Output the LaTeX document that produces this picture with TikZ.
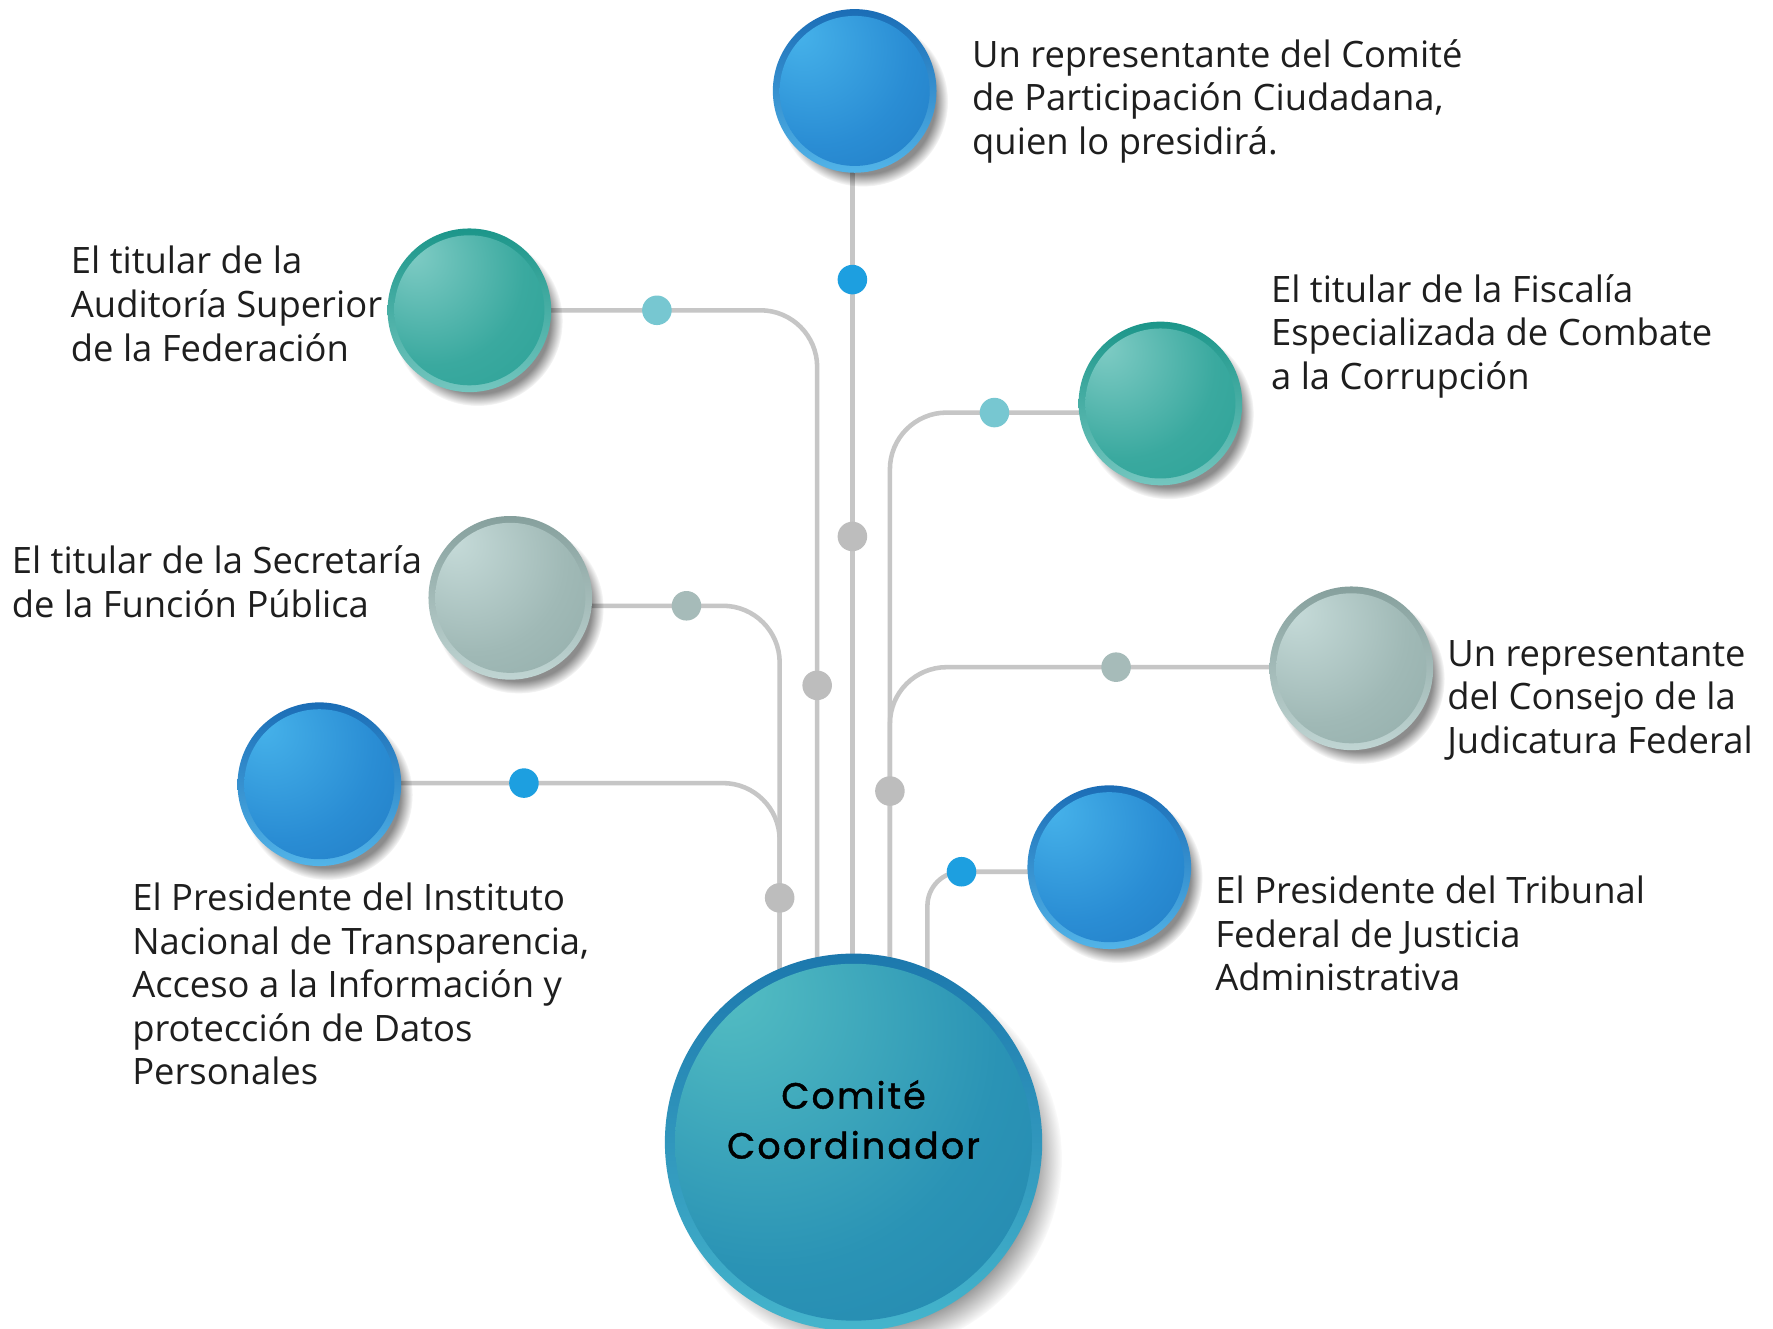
\documentclass[tikz,border=0pt]{standalone}
\usepackage{fontspec}
\setmainfont{Open Sans}
\newfontfamily\comfont{Poppins}[LetterSpace=6,FakeBold=1.2]
\usetikzlibrary{shadows,fadings}
\pgfdeclarelayer{bg}
\pgfsetlayers{bg,main}

\definecolor{textc}{HTML}{1E1E1E}
\definecolor{wirec}{HTML}{C6C6C6}
% blue balls
\definecolor{bb1}{HTML}{46B2EA}
\definecolor{bb2}{HTML}{2A8DD4}
\definecolor{bb3}{HTML}{1462AB}
\definecolor{br1}{HTML}{1B6DB6}
\definecolor{br2}{HTML}{52B4E8}
% teal balls
\definecolor{tb1}{HTML}{80CCC5}
\definecolor{tb2}{HTML}{3AA99F}
\definecolor{tb3}{HTML}{15958A}
\definecolor{tr1}{HTML}{1C968A}
\definecolor{tr2}{HTML}{74C6BF}
% gray balls
\definecolor{gb1}{HTML}{C6DBD9}
\definecolor{gb2}{HTML}{A0B9B6}
\definecolor{gb3}{HTML}{7E9A97}
\definecolor{gr1}{HTML}{86A09D}
\definecolor{gr2}{HTML}{C0D5D3}
% central ball
\definecolor{cb1}{HTML}{55BFC3}
\definecolor{cb2}{HTML}{2A93B5}
\definecolor{cb3}{HTML}{1A73A8}
\definecolor{cr1}{HTML}{1C78AD}
\definecolor{cr2}{HTML}{45B5CC}
% dots
\definecolor{dblue}{HTML}{1D9FE0}
\definecolor{dteal}{HTML}{77C7D1}
\definecolor{dgray}{HTML}{BDBDBD}
\definecolor{dsage}{HTML}{A6BBB9}

\pgfdeclareradialshading{blueshade}{\pgfpoint{-18bp}{18bp}}{color(0bp)=(bb1); color(28bp)=(bb2); color(75bp)=(bb3)}
\pgfdeclareradialshading{tealshade}{\pgfpoint{-18bp}{18bp}}{color(0bp)=(tb1); color(28bp)=(tb2); color(75bp)=(tb3)}
\pgfdeclareradialshading{grayshade}{\pgfpoint{-18bp}{18bp}}{color(0bp)=(gb1); color(28bp)=(gb2); color(75bp)=(gb3)}
\pgfdeclareradialshading{comshade}{\pgfpoint{-18bp}{22bp}}{color(0bp)=(cb1); color(30bp)=(cb2); color(75bp)=(cb3)}

\newcommand{\lns}[1]{\begin{tabular}[t]{@{}l@{}}#1\end{tabular}}

\tikzset{
  ballbase/.style={circle, inner sep=0pt, shading angle=45,
    circular drop shadow={shadow xshift=3.5pt, shadow yshift=-4.5pt, shadow scale=1.04, opacity=0.45, fill=black}},
  blueball/.style={ballbase, minimum size=72pt, top color=br1, bottom color=br2,
    path picture={\shade[shading=blueshade, shading angle=0] (path picture bounding box.center) circle[radius=33pt];}},
  tealball/.style={ballbase, minimum size=72pt, top color=tr1, bottom color=tr2,
    path picture={\shade[shading=tealshade, shading angle=0] (path picture bounding box.center) circle[radius=33pt];}},
  grayball/.style={ballbase, minimum size=72pt, top color=gr1, bottom color=gr2,
    path picture={\shade[shading=grayshade, shading angle=0] (path picture bounding box.center) circle[radius=33pt];}},
  bigball/.style={circle, inner sep=0pt, shading angle=45, minimum size=166pt, top color=cr1, bottom color=cr2,
    circular drop shadow={shadow xshift=6pt, shadow yshift=-7pt, shadow scale=1.03, opacity=0.4, fill=black},
    path picture={\shade[shading=comshade, shading angle=0] (path picture bounding box.center) circle[radius=78.5pt];}},
  knob/.style={circle, inner sep=0pt, minimum size=13pt, fill=#1},
  wire/.style={draw=wirec, line width=2pt},
  lbl/.style={anchor=base west, inner sep=0pt, text=textc, font=\fontsize{16}{19.2}\selectfont},
  comtext/.style={align=center, inner sep=0pt, text=black, font=\comfont\fontsize{16}{22}\selectfont},
}

\begin{document}
\begin{tikzpicture}[x=0.5pt, y=-0.5pt]
\useasboundingbox (0,0) rectangle (1560,1169);

% balls
\node[blueball] (p1) at (752,80) {};
\node[tealball] (aud) at (413,273) {};
\node[tealball] (fis) at (1021,355) {};
\node[grayball] (sec) at (449,526) {};
\node[grayball] (jud) at (1189,588) {};
\node[blueball] (ins) at (281,690) {};
\node[blueball] (tri) at (976,763) {};
\node[bigball] (cc) at (751,1005) {};
\node[comtext] (cct) at ([yshift=10pt]cc.center) {Comité\\Coordinador};

% junction points at the central ball
\coordinate (j1) at (686,1000);
\coordinate (j2) at (719,1000);
\coordinate (j3) at (750,1000);
\coordinate (j4) at (783,1000);
\coordinate (j5) at (816,1000);

% dots
\node[knob=dblue] (d1) at (750,246) {};
\node[knob=dgray] (d2) at (750,472) {};
\node[knob=dteal] (d3) at (578,273) {};
\node[knob=dgray] (d4) at (719,603) {};
\node[knob=dsage] (d5) at (604,533) {};
\node[knob=dblue] (d6) at (461,689) {};
\node[knob=dgray] (d7) at (686,790) {};
\node[knob=dteal] (d8) at (875,363) {};
\node[knob=dsage] (d9) at (982,587) {};
\node[knob=dgray] (d10) at (783,696) {};
\node[knob=dblue] (d11) at (846,767) {};

% labels
\node[lbl] (t1) at (855,59) {\lns{Un representante del Comité\\de Participación Ciudadana,\\quien lo presidirá.}};
\node[lbl] (t2) at (62,241) {\lns{El titular de la\\Auditoría Superior\\de la Federación}};
\node[lbl] (t3) at (1118,266) {\lns{El titular de la Fiscalía\\Especializada de Combate\\a la Corrupción}};
\node[lbl] (t4) at (10,505) {\lns{El titular de la Secretaría\\de la Función Pública}};
\node[lbl] (t5) at (1273,586) {\lns{Un representante\\del Consejo de la\\Judicatura Federal}};
\node[lbl] (t6) at (116,801) {\lns{El Presidente del Instituto\\Nacional de Transparencia,\\Acceso a la Información y\\protección de Datos\\Personales}};
\node[lbl] (t7) at (1069,795) {\lns{El Presidente del Tribunal\\Federal de Justicia\\Administrativa}};

% connectors
\begin{pgfonlayer}{bg}
\fill[white] (0,0) rectangle (1560,1169);
\draw[wire] (p1.center -| d1) -- (j3);
\draw[wire, rounded corners=25pt] (aud.center |- d3) -| (j2);
\draw[wire, rounded corners=25pt] (sec.center |- d5) -| (j1);
\draw[wire, rounded corners=25pt] (ins.center |- d6) -| (j1);
\draw[wire, rounded corners=25pt] (fis.center |- d8) -| (j4);
\draw[wire, rounded corners=25pt] (jud.center |- d9) -| (j4);
\draw[wire, rounded corners=15pt] (tri.center |- d11) -| (j5);
\end{pgfonlayer}
\end{tikzpicture}
\end{document}
